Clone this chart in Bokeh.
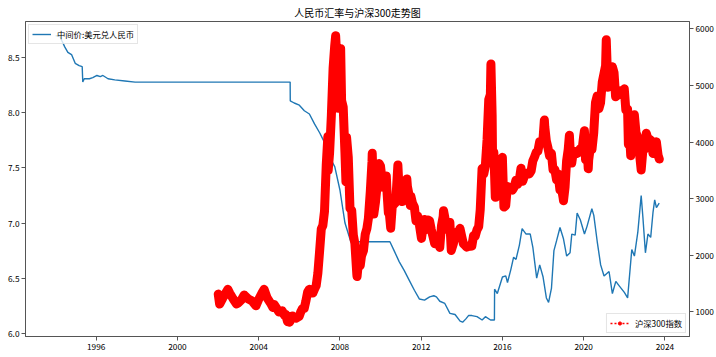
import pandas as pd
from bokeh.plotting import figure
from bokeh.models import (Range1d, LinearAxis, FixedTicker, DatetimeTickFormatter,
                          PrintfTickFormatter, Legend, LegendItem)
from bokeh.embed import file_html
from bokeh.resources import INLINE

# ---------------- data ----------------
usd_dates = [
    "1994-01-03", "1994-03-15", "1994-04-20", "1994-06-15", "1994-08-10", "1994-10-15",
    "1994-12-20", "1995-03-01", "1995-04-25", "1995-05-05", "1995-06-01", "1995-09-01",
    "1995-11-01", "1996-01-15", "1996-03-15", "1996-05-01", "1996-08-01", "1996-12-01",
    "1997-06-01", "1997-12-01", "1998-06-01", "2005-07-20", "2005-07-22", "2005-10-01",
    "2006-01-01", "2006-04-01", "2006-07-01", "2006-10-01", "2007-01-01", "2007-04-01",
    "2007-07-01", "2007-10-01", "2008-01-01", "2008-04-01", "2008-07-15", "2010-06-18",
    "2010-09-01", "2010-12-01", "2011-03-01", "2011-06-01", "2011-09-01", "2011-12-01",
    "2012-03-01", "2012-06-01", "2012-08-15", "2012-10-01", "2012-12-01", "2013-03-01",
    "2013-06-01", "2013-09-01", "2013-12-01", "2014-01-15", "2014-03-15", "2014-05-01",
    "2014-07-01", "2014-10-01", "2015-01-01", "2015-03-01", "2015-06-01", "2015-08-10",
    "2015-08-13", "2015-10-01", "2016-01-01", "2016-03-01", "2016-04-01", "2016-06-01",
    "2016-07-20", "2016-09-01", "2016-11-01", "2016-12-20", "2017-03-01", "2017-05-15",
    "2017-07-01", "2017-09-08", "2017-11-01", "2018-01-01", "2018-03-01", "2018-04-10",
    "2018-06-01", "2018-07-15", "2018-09-01", "2018-11-01", "2019-01-01", "2019-03-01",
    "2019-05-01", "2019-06-01", "2019-08-01", "2019-09-05", "2019-11-01", "2020-01-15",
    "2020-03-01", "2020-05-27", "2020-07-01", "2020-09-01", "2020-11-01", "2021-01-01",
    "2021-04-01", "2021-05-31", "2021-08-01", "2021-10-01", "2022-01-01", "2022-03-01",
    "2022-05-15", "2022-07-01", "2022-09-01", "2022-10-31", "2022-12-01", "2023-01-15",
    "2023-03-01", "2023-04-20", "2023-06-01", "2023-07-01", "2023-08-01", "2023-09-20",
]
usd_rate = [
    8.70, 8.70, 8.66, 8.60, 8.55, 8.53,
    8.45, 8.43, 8.42, 8.28, 8.31, 8.31,
    8.32, 8.34, 8.33, 8.34, 8.31, 8.30,
    8.29, 8.28, 8.28, 8.28, 8.11, 8.09,
    8.07, 8.02, 7.99, 7.90, 7.82, 7.73,
    7.60, 7.51, 7.30, 7.00, 6.83, 6.83,
    6.75, 6.65, 6.57, 6.48, 6.39, 6.31,
    6.30, 6.33, 6.34, 6.33, 6.29, 6.27,
    6.18, 6.17, 6.11, 6.10, 6.13, 6.16,
    6.16, 6.15, 6.12, 6.15, 6.12, 6.12,
    6.40, 6.36, 6.51, 6.52, 6.46, 6.58,
    6.69, 6.67, 6.80, 6.95, 6.90, 6.90,
    6.78, 6.50, 6.62, 6.51, 6.32, 6.28,
    6.41, 6.75, 6.84, 6.96, 6.86, 6.70,
    6.73, 6.90, 6.89, 7.09, 7.03, 6.90,
    6.97, 7.13, 7.07, 6.83, 6.62, 6.52,
    6.56, 6.36, 6.47, 6.43, 6.37, 6.32,
    6.76, 6.70, 6.92, 7.25, 7.05, 6.73,
    6.90, 6.87, 7.10, 7.21, 7.14, 7.18,
]

csi_dates = [
    "2002-01-04", "2002-01-29", "2002-03-29", "2002-05-10", "2002-06-25", "2002-07-31",
    "2002-09-30", "2002-11-29", "2002-12-31", "2003-02-28", "2003-04-15", "2003-06-30",
    "2003-08-29", "2003-11-14", "2003-12-31", "2004-02-27", "2004-04-07", "2004-05-31",
    "2004-07-30", "2004-09-13", "2004-10-08", "2004-12-31", "2005-02-28", "2005-03-31",
    "2005-04-29", "2005-06-03", "2005-06-30", "2005-07-11", "2005-08-31", "2005-10-31",
    "2005-12-30", "2006-01-27", "2006-02-28", "2006-03-31", "2006-04-28", "2006-05-31",
    "2006-06-30", "2006-07-31", "2006-08-31", "2006-09-29", "2006-10-31", "2006-11-30",
    "2006-12-29", "2007-01-31", "2007-02-28", "2007-03-30", "2007-04-30", "2007-05-29",
    "2007-06-04", "2007-06-29", "2007-07-31", "2007-08-31", "2007-09-28", "2007-10-16",
    "2007-10-31", "2007-11-28", "2007-12-28", "2008-01-14", "2008-01-31", "2008-02-29",
    "2008-03-31", "2008-04-18", "2008-04-30", "2008-05-30", "2008-06-30", "2008-07-31",
    "2008-08-29", "2008-09-26", "2008-10-31", "2008-11-04", "2008-11-28", "2008-12-31",
    "2009-01-23", "2009-02-27", "2009-03-31", "2009-04-30", "2009-05-27", "2009-06-30",
    "2009-07-31", "2009-08-04", "2009-08-31", "2009-09-01", "2009-09-30", "2009-10-30",
    "2009-11-24", "2009-12-07", "2009-12-31", "2010-01-11", "2010-01-29", "2010-02-26",
    "2010-03-31", "2010-04-14", "2010-04-30", "2010-05-21", "2010-05-31",
    "2010-07-02", "2010-07-30", "2010-08-31", "2010-09-30", "2010-11-08", "2010-11-30",
    "2010-12-31", "2011-01-25", "2011-01-31", "2011-02-28", "2011-03-31", "2011-04-18",
    "2011-04-29",
    "2011-05-31", "2011-06-20", "2011-06-30", "2011-07-29", "2011-08-31", "2011-09-30",
    "2011-10-31", "2011-11-30", "2012-01-06", "2012-01-31", "2012-02-29", "2012-03-30",
    "2012-04-27", "2012-05-31", "2012-06-29", "2012-07-31", "2012-08-31", "2012-09-28",
    "2012-10-31", "2012-11-30", "2012-12-31", "2013-01-31", "2013-02-06", "2013-02-28",
    "2013-03-29", "2013-04-26", "2013-05-31", "2013-06-25", "2013-07-31", "2013-08-30",
    "2013-09-30", "2013-10-31", "2013-11-29", "2013-12-31", "2014-01-30", "2014-02-28",
    "2014-03-31", "2014-04-30", "2014-05-30", "2014-06-30", "2014-07-31", "2014-08-29",
    "2014-09-30", "2014-10-31", "2014-11-28", "2014-12-31", "2015-01-30", "2015-02-27",
    "2015-03-31", "2015-04-30", "2015-05-29", "2015-06-08", "2015-06-30", "2015-07-08",
    "2015-07-31", "2015-08-26", "2015-08-31", "2015-09-15", "2015-09-30", "2015-10-30",
    "2015-11-30",
    "2015-12-31", "2016-01-28", "2016-02-29", "2016-03-31", "2016-04-29", "2016-05-31",
    "2016-06-30", "2016-07-29", "2016-08-31", "2016-09-30", "2016-10-31", "2016-11-30",
    "2016-12-30", "2017-01-26", "2017-02-28", "2017-03-31", "2017-04-28", "2017-05-31",
    "2017-06-30", "2017-07-31", "2017-08-31", "2017-09-29", "2017-10-31", "2017-11-30",
    "2017-12-29", "2018-01-24", "2018-01-31", "2018-02-28", "2018-03-30", "2018-04-27",
    "2018-05-31", "2018-06-29", "2018-07-31", "2018-08-31", "2018-09-28", "2018-10-31",
    "2018-11-30", "2018-12-28", "2019-01-03", "2019-01-31", "2019-02-28", "2019-03-29",
    "2019-04-19", "2019-04-30", "2019-05-31", "2019-06-28", "2019-07-31", "2019-08-30",
    "2019-09-30", "2019-10-31", "2019-11-29", "2019-12-31", "2020-01-14", "2020-01-23",
    "2020-02-03", "2020-02-28", "2020-03-23", "2020-03-31", "2020-04-30", "2020-05-29",
    "2020-06-30", "2020-07-31", "2020-08-31", "2020-09-30", "2020-10-30", "2020-11-30",
    "2020-12-31", "2021-01-29", "2021-02-10", "2021-02-26", "2021-03-09", "2021-03-31",
    "2021-04-30", "2021-05-31", "2021-06-30", "2021-07-28", "2021-08-31", "2021-09-30",
    "2021-10-29", "2021-11-30", "2021-12-31", "2022-01-28", "2022-02-28", "2022-03-15",
    "2022-03-31", "2022-04-26", "2022-04-29", "2022-05-31", "2022-06-30", "2022-07-29",
    "2022-08-31", "2022-09-30", "2022-10-31", "2022-11-30", "2022-12-30", "2023-01-31",
    "2023-02-28", "2023-03-31", "2023-04-28", "2023-05-31", "2023-06-30", "2023-07-31",
    "2023-08-31", "2023-09-22",
]
csi_close = [
    1316, 1140, 1250, 1320, 1400, 1330,
    1230, 1140, 1160, 1220, 1300, 1230,
    1200, 1110, 1220, 1330, 1400, 1250,
    1160, 1080, 1130, 1000, 1020, 950,
    960, 830, 925, 820, 930, 890,
    923, 1003, 1063, 1066, 1188, 1355,
    1400, 1364, 1334, 1399, 1466, 1680,
    2041, 2469, 2527, 2781, 3596, 4100,
    3500, 3806, 4471, 5301, 5689, 5877,
    5589, 4600, 5338, 5650, 4732, 4617,
    3820, 3300, 4081, 3736, 2829, 2793,
    2357, 2209, 1663, 1627, 1868, 1817,
    1991, 2082, 2373, 2474, 2654, 3128,
    3664, 3803, 2859, 2730, 2930, 3224,
    3560, 3620, 3575, 3480, 3205, 3281,
    3358, 3400, 3068, 2750, 2819,
    2480, 2868, 2903, 2935, 3597, 3155,
    3128, 2950, 3077, 3239, 3253, 3350,
    3212,
    3050, 2880, 3044, 2922, 2856, 2606,
    2693, 2540, 2300, 2464, 2634, 2455,
    2626, 2610, 2462, 2333, 2205, 2293,
    2254, 2140, 2523, 2688, 2790, 2674,
    2495, 2448, 2582, 2086, 2200, 2350,
    2409, 2378, 2477, 2331, 2202, 2178,
    2146, 2158, 2160, 2165, 2350, 2338,
    2450, 2508, 2808, 3533, 3434, 3572,
    4051, 4749, 4841, 5380, 4473, 3663,
    3816, 3025, 3366, 3130, 3202, 3534,
    3566,
    3731, 2853, 2877, 3218, 3156, 3169,
    3154, 3203, 3327, 3253, 3336, 3538,
    3310, 3387, 3452, 3456, 3439, 3492,
    3666, 3737, 3822, 3837, 4006, 4006,
    4030, 4389, 4275, 4023, 3898, 3756,
    3802, 3510, 3517, 3335, 3438, 3153,
    3172, 3011, 2964, 3202, 3669, 3872,
    4120, 3913, 3630, 3826, 3835, 3799,
    3815, 3886, 3828, 4097, 4200, 4003,
    3690, 3940, 3530, 3686, 3912, 3868,
    4164, 4696, 4816, 4587, 4695, 5060,
    5211, 5352, 5807, 5336, 4970, 5048,
    5123, 5331, 5224, 4800, 4827, 4866,
    4908, 4832, 4940, 4564, 4582, 3960,
    4222, 3760, 4016, 4091, 4485, 4170,
    4079, 3805, 3508, 3853, 3872, 4156,
    4060, 4051, 4029, 3799, 3843, 4004,
    3766, 3700,
]

x_tick_years = [1996, 2000, 2004, 2008, 2012, 2016, 2020, 2024]
left_ticks = [6.0, 6.5, 7.0, 7.5, 8.0, 8.5]
right_ticks = [1000, 2000, 3000, 4000, 5000, 6000]

title_text = "人民币汇率与沪深300走势图"
usd_label = "中间价:美元兑人民币"
csi_label = "沪深300指数"

# ---------------- build ----------------
FONT = "Noto Sans CJK SC"
usd_x = pd.to_datetime(usd_dates)
csi_x = pd.to_datetime(csi_dates)


def padded(lo, hi, frac=0.05):
    d = (hi - lo) * frac
    return lo - d, hi + d


def ms(ts):
    return pd.Timestamp(ts).value / 1e6


xmin = min(usd_x.min(), csi_x.min())
xmax = max(usd_x.max(), csi_x.max())
x0, x1 = padded(ms(xmin), ms(xmax))
yl0, yl1 = padded(min(usd_rate), max(usd_rate))
yr0, yr1 = padded(min(csi_close), max(csi_close))

p = figure(width=716, height=357, x_axis_type="datetime",
           output_backend="svg", toolbar_location=None,
           x_range=Range1d(x0, x1), y_range=Range1d(yl0, yl1),
           min_border_left=25, min_border_right=27,
           min_border_top=20, min_border_bottom=21)
p.extra_y_ranges = {"csi": Range1d(yr0, yr1)}
p.add_layout(LinearAxis(y_range_name="csi"), "right")

p.title.text = title_text
p.title.align = "center"
p.title.text_font = FONT
p.title.text_font_size = "10px"
p.title.text_font_style = "normal"
p.title.text_color = "black"
p.title.standoff = 4

p.xgrid.visible = False
p.ygrid.visible = False
p.outline_line_color = "#555555"
p.background_fill_color = "white"
p.border_fill_color = "white"

for ax in p.axis:
    ax.axis_line_color = "#555555"
    ax.major_tick_line_color = "#555555"
    ax.minor_tick_line_color = None
    ax.major_tick_out = 4
    ax.major_tick_in = 0
    ax.major_label_standoff = 2
    ax.major_label_text_font = FONT
    ax.major_label_text_font_size = "8.3px"
    ax.major_label_text_color = "black"

p.xaxis[0].ticker = FixedTicker(ticks=[ms(f"{y}-01-01") for y in x_tick_years])
p.xaxis[0].formatter = DatetimeTickFormatter(
    years="%Y", months="%Y", days="%Y", hours="%Y", minutes="%Y",
    seconds="%Y", milliseconds="%Y", microseconds="%Y")
p.yaxis[0].ticker = FixedTicker(ticks=left_ticks)
p.yaxis[0].formatter = PrintfTickFormatter(format="%.1f")
p.yaxis[1].ticker = FixedTicker(ticks=right_ticks)
p.yaxis[1].formatter = PrintfTickFormatter(format="%d")

blue = p.line(usd_x, usd_rate, line_color="#1f77b4", line_width=1.4)

red = "#ff0000"
p.line(csi_x, csi_close, y_range_name="csi", line_color=red, line_width=9,
       line_join="round", line_cap="round")
dotted = p.line(csi_x, csi_close, y_range_name="csi", line_color=red,
                line_width=1.5, line_dash="2 2")
dots = p.scatter(csi_x, csi_close, y_range_name="csi", marker="circle", size=6,
                 fill_color=red, line_color=red)

leg1 = Legend(items=[LegendItem(label=usd_label, renderers=[blue])], location="top_left")
leg2 = Legend(items=[LegendItem(label=csi_label, renderers=[dotted, dots])],
              location="bottom_right")
for leg in (leg1, leg2):
    leg.label_text_font = FONT
    leg.label_text_font_size = "8.3px"
    leg.label_text_color = "black"
    leg.glyph_width = 19
    leg.glyph_height = 8
    leg.label_height = 8
    leg.label_standoff = 6
    leg.padding = 3
    leg.margin = 3
    leg.spacing = 0
    leg.border_line_color = "#cccccc"
    leg.border_line_width = 1
    leg.background_fill_alpha = 0.8
    p.add_layout(leg)

open("out.html", "w").write(file_html(p, INLINE))
